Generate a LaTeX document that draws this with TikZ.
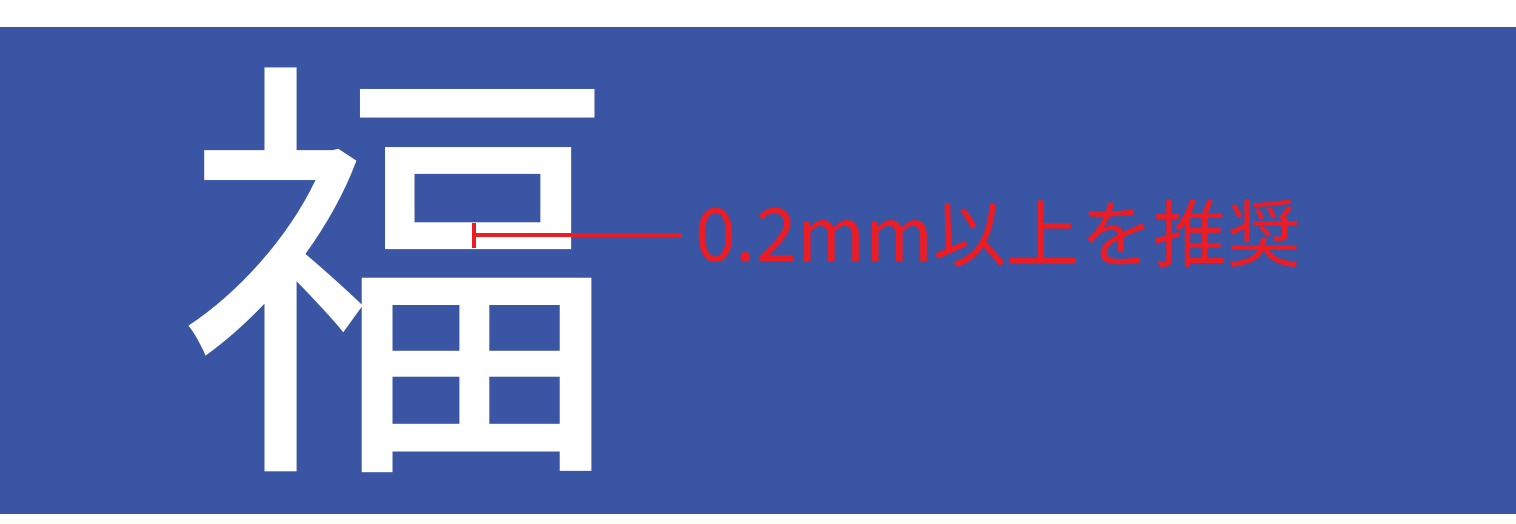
\documentclass[tikz,border=0pt]{standalone}
\usepackage{fontspec}
\usetikzlibrary{calc}
\newfontfamily\cjk{Noto Sans CJK JP}
\definecolor{bgblue}{HTML}{3955A4}
\definecolor{markred}{HTML}{EC1C24}
\begin{document}
\begin{tikzpicture}[x=1pt,y=-1pt,
  bigglyph/.style={inner sep=0pt,outer sep=0pt,text=white,font=\cjk\fontsize{440}{440}\selectfont},
  note/.style={inner sep=0pt,outer sep=0pt,text=markred,font=\cjk\fontsize{73.5}{73.5}\selectfont},
  measure/.style={draw=markred,line width=3.5pt}]
\useasboundingbox (0,0) rectangle (1516,523);
\fill[bgblue] (0,27) rectangle (1516,513.5);
\node[bigglyph,anchor=base west] (fuku) at (180,437) {福};
\coordinate (tickL) at (474,235);
\coordinate (tickT) at (474,223);
\coordinate (tickB) at (474,247.5);
\node[note,anchor=base west] (label) at (695,261) {0.2mm以上を推奨};
\coordinate (lineR) at ($(label.west |- tickL)+(-13,0)$);
\draw[measure] (tickT) -- (tickB);
\draw[measure] (tickL) -- (lineR);
\end{tikzpicture}
\end{document}
